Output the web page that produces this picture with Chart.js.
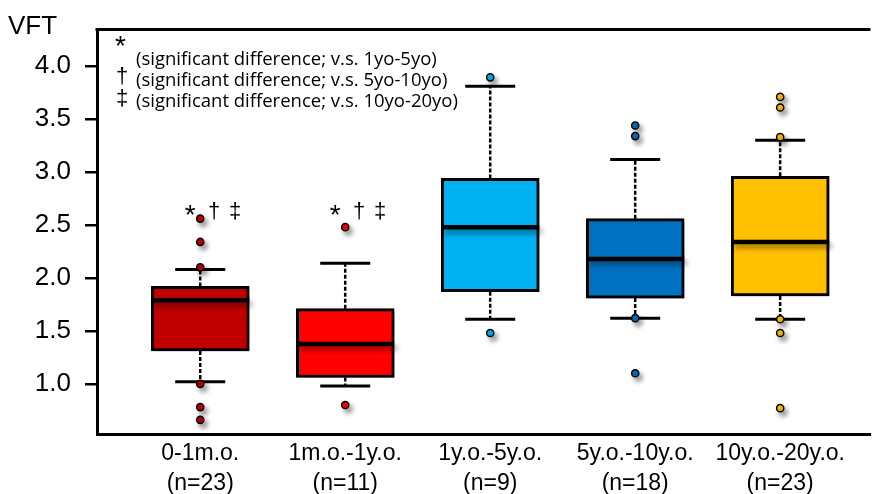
<!DOCTYPE html>
<html>
<head>
<meta charset="utf-8">
<title>VFT by age group</title>
<script src="https://cdn.jsdelivr.net/npm/chart.js@4.4.1/dist/chart.umd.min.js"></script>
<style>
  html, body { margin: 0; padding: 0; background: #fff; }
  #wrap { width: 876px; height: 494px; }
</style>
</head>
<body>
<div id="wrap"><canvas id="myChart"></canvas></div>
<script>
'use strict';
// groups and sample sizes
const groups = ['0-1m.o.', '1m.o.-1y.o.', '1y.o.-5y.o.', '5y.o.-10y.o.', '10y.o.-20y.o.'];
const groupN = ['(n=23)', '(n=11)', '(n=9)', '(n=18)', '(n=23)'];

// box plot values
const q1 = [1.31, 1.06, 1.87, 1.81, 1.83];
const q3 = [1.92, 1.71, 2.94, 2.56, 2.96];
const medians = [1.79, 1.375, 2.48, 2.18, 2.34];
const whiskerLow = [1.02, 0.98, 1.61, 1.62, 1.61];
const whiskerHigh = [2.08, 2.14, 3.81, 3.12, 3.30];
const outliers = [
  [2.56, 2.34, 2.10, 1.00, 0.78, 0.66],
  [2.48, 0.80],
  [3.895, 1.48],
  [3.44, 3.34, 1.62, 1.10],
  [3.71, 3.61, 3.33, 1.61, 1.48, 0.77]
];
const yTicks = [1.0, 1.5, 2.0, 2.5, 3.0, 3.5, 4.0];

// significance marks above the first two groups
const sigMarks = [['*', '†', '‡'], ['*', '†', '‡'], [], [], []];
const sigLevel = 2.62;
const sigNotes = [
  ['*', '(significant difference; v.s. 1yo-5yo)'],
  ['†', '(significant difference; v.s. 5yo-10yo)'],
  ['‡', '(significant difference; v.s. 10yo-20yo)']
];

const boxColors = ['#C00000', '#FF0000', '#00B0F0', '#0070C0', '#FFC000'];
const FONT = '"Liberation Sans", Arial, sans-serif';

Chart.defaults.font.family = FONT;
Chart.defaults.color = '#000';

let boxData = [];
for (let i = 0; i < groups.length; i++) {
  boxData.push({ x: i, y: [q1[i], q3[i]] });
}
let outlierData = [];
for (let i = 0; i < outliers.length; i++) {
  for (let j = 0; j < outliers[i].length; j++) {
    outlierData.push({ x: i, y: outliers[i][j] });
  }
}

function setShadow(ctx) {
  ctx.shadowColor = 'rgba(0,0,0,0.4)';
  ctx.shadowBlur = 5;
  ctx.shadowOffsetX = 3;
  ctx.shadowOffsetY = 4;
}

const boxExtras = {
  id: 'boxExtras',
  beforeDatasetDraw(chart, args) {
    const ctx = chart.ctx;
    const xs = chart.scales.x;
    const ys = chart.scales.y;
    ctx.save();
    if (args.index === 1) {
      // dashed whiskers and caps, behind the boxes
      ctx.strokeStyle = '#000';
      for (let i = 0; i < groups.length; i++) {
        const px = xs.getPixelForValue(i);
        ctx.lineWidth = 2.5;
        ctx.setLineDash([4, 2]);
        ctx.beginPath();
        ctx.moveTo(px, ys.getPixelForValue(q3[i]));
        ctx.lineTo(px, ys.getPixelForValue(whiskerHigh[i]));
        ctx.moveTo(px, ys.getPixelForValue(q1[i]));
        ctx.lineTo(px, ys.getPixelForValue(whiskerLow[i]));
        ctx.stroke();
        ctx.setLineDash([]);
        ctx.lineWidth = 3;
        ctx.beginPath();
        ctx.moveTo(px - 25, ys.getPixelForValue(whiskerHigh[i]));
        ctx.lineTo(px + 25, ys.getPixelForValue(whiskerHigh[i]));
        ctx.moveTo(px - 25, ys.getPixelForValue(whiskerLow[i]));
        ctx.lineTo(px + 25, ys.getPixelForValue(whiskerLow[i]));
        ctx.stroke();
      }
    }
    setShadow(ctx);
  },
  afterDatasetDraw(chart, args) {
    const ctx = chart.ctx;
    if (args.index === 1) {
      const meta = chart.getDatasetMeta(1);
      const ys = chart.scales.y;
      ctx.strokeStyle = '#000';
      ctx.lineWidth = 4.5;
      for (let i = 0; i < meta.data.length; i++) {
        const bar = meta.data[i];
        const py = ys.getPixelForValue(medians[i]);
        ctx.beginPath();
        ctx.moveTo(bar.x - bar.width / 2, py);
        ctx.lineTo(bar.x + bar.width / 2, py);
        ctx.stroke();
      }
    }
    ctx.restore();
  },
  afterDraw(chart) {
    const ctx = chart.ctx;
    const area = chart.chartArea;
    const xs = chart.scales.x;
    const ys = chart.scales.y;
    ctx.save();
    // top frame line
    ctx.strokeStyle = '#000';
    ctx.lineWidth = 3;
    ctx.beginPath();
    ctx.moveTo(area.left - 1.5, area.top);
    ctx.lineTo(area.right, area.top);
    ctx.stroke();

    ctx.fillStyle = '#000';
    ctx.textAlign = 'left';
    ctx.textBaseline = 'alphabetic';
    ctx.font = '26px ' + FONT;
    ctx.fillText('VFT', 8, 34);

    // notes in the top left corner
    ctx.font = '28px ' + FONT;
    ctx.fillText(sigNotes[0][0], 115, 55);
    ctx.font = '22px ' + FONT;
    ctx.fillText(sigNotes[1][0], 116, 83);
    ctx.fillText(sigNotes[2][0], 116, 105);
    ctx.font = '18.5px "Open Sans", sans-serif';
    ctx.textBaseline = 'middle';
    ctx.fillText(sigNotes[0][1], 136, 60);
    ctx.fillText(sigNotes[1][1], 136, 81);
    ctx.fillText(sigNotes[2][1], 136, 102);

    // marks above the boxes
    const offsets = [-10, 14, 35];
    ctx.textAlign = 'center';
    for (let i = 0; i < sigMarks.length; i++) {
      const px = xs.getPixelForValue(i);
      const py = ys.getPixelForValue(sigLevel);
      for (let k = 0; k < sigMarks[i].length; k++) {
        ctx.font = (sigMarks[i][k] === '*' ? '28px ' : '22px ') + FONT;
        ctx.fillText(sigMarks[i][k], px + offsets[k], sigMarks[i][k] === '*' ? py + 4 : py);
      }
    }
    ctx.restore();
  }
};

const ctx = document.getElementById('myChart').getContext('2d');
const myChart = new Chart(ctx, {
  data: {
    datasets: [
      {
        type: 'scatter',
        label: 'outliers',
        data: outlierData,
        order: 1,
        pointRadius: 3.6,
        pointBorderWidth: 1.5,
        pointBorderColor: '#000',
        pointBackgroundColor: (c) => boxColors[c.raw ? c.raw.x : 0]
      },
      {
        type: 'bar',
        label: 'boxes',
        data: boxData,
        order: 2,
        backgroundColor: boxColors,
        borderColor: '#000',
        borderWidth: 3,
        borderSkipped: false,
        barThickness: 98
      }
    ]
  },
  options: {
    responsive: true,
    maintainAspectRatio: false,
    animation: false,
    layout: { padding: { top: 22, left: 0, right: 0, bottom: 0 } },
    plugins: {
      legend: { display: false },
      tooltip: { enabled: false }
    },
    scales: {
      x: {
        type: 'linear',
        offset: false,
        min: -0.712,
        max: 4.623,
        afterBuildTicks: (scale) => { scale.ticks = groups.map((g, i) => ({ value: i })); },
        afterFit: (scale) => { scale.height = 60; },
        grid: { display: false, offset: false },
        border: { display: true, color: '#000', width: 3 },
        ticks: {
          padding: -3,
          maxRotation: 0,
          autoSkip: false,
          font: { size: 23, lineHeight: 1.3 },
          callback: (v) => [groups[v], groupN[v]]
        }
      },
      y: {
        type: 'linear',
        min: 0.526,
        max: 4.346,
        afterBuildTicks: (scale) => { scale.ticks = yTicks.map((v) => ({ value: v })); },
        afterFit: (scale) => { scale.width = 97; },
        grid: { drawOnChartArea: false, drawTicks: true, tickLength: 12, color: '#000', lineWidth: 2.5 },
        border: { display: true, color: '#000', width: 3 },
        ticks: {
          padding: 14,
          font: { size: 26 },
          callback: (v) => Number(v).toFixed(1)
        }
      }
    }
  },
  plugins: [boxExtras]
});
</script>
</body>
</html>
